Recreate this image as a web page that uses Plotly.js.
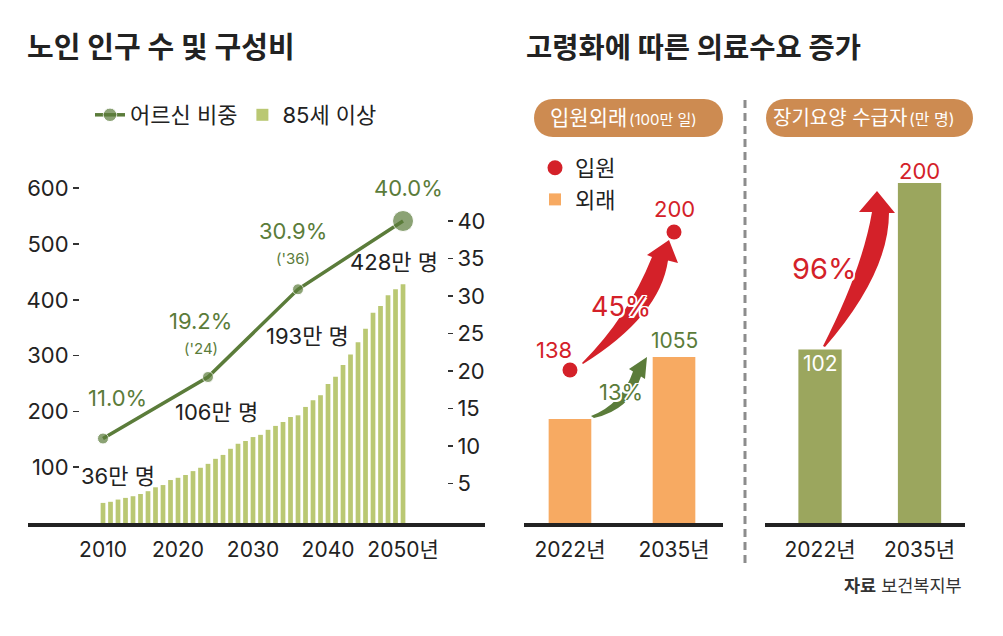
<!DOCTYPE html>
<html><head><meta charset="utf-8">
<script src="https://cdn.plot.ly/plotly-3.0.1.min.js"></script>
<style>html,body{margin:0;padding:0;background:#fff}#chart{width:1003px;height:636px}</style>
</head><body><div id="chart"></div>
<script>
// ---------- data ----------
const years85 = [2010,2011,2012,2013,2014,2015,2016,2017,2018,2019,2020,2021,2022,2023,2024,2025,2026,2027,2028,2029,2030,2031,2032,2033,2034,2035,2036,2037,2038,2039,2040,2041,2042,2043,2044,2045,2046,2047,2048,2049,2050];
const over85 = [36,38,42,45,48,52,57,64,68,77,81,86,93,99,106,115,122,133,142,147,154,158,167,174,181,190,193,208,220,229,249,262,283,302,324,348,377,389,408,419,428];
const shareYears = [2010, 2024, 2036, 2050];
const shareVals = [11.0, 19.2, 30.9, 40.0];
const shareNotes = ['', "('24)", "('36)", ''];
const countLabelYears = [2010, 2024, 2036, 2050];
const leftTicks = [100, 200, 300, 400, 500, 600];
const rightTicks = [5, 10, 15, 20, 25, 30, 35, 40];
const xTickYears = [2010, 2020, 2030, 2040, 2050];
const xTickText = ['2010', '2020', '2030', '2040', '2050년'];
const careYears = ['2022년', '2035년'];
const inpatient = [138, 200];     // 입원 (100만 일)
const outpatient = [934, 1055];   // 외래 (100만 일)
const ltcRecipients = [102, 200]; // 장기요양 수급자 (만 명)

// ---------- helpers ----------
const W = 1003, H = 636;
const fx = p => p / W;
const fy = p => 1 - p / H;
function pth(segs) {
  return segs.map(s => {
    let out = s[0];
    const n = s.slice(1);
    for (let i = 0; i < n.length; i += 2) {
      out += (i ? ' ' : '') + fx(n[i]).toFixed(5) + ',' + fy(n[i + 1]).toFixed(5);
    }
    return out;
  }).join(' ');
}
const FONT = 'Inter, Noto Sans CJK KR, sans-serif';
const GREEN = '#5B7C3A', LIGHTGREEN = '#BAC873', OLIVE = '#9BA65E', ORANGE = '#F7AA62', RED = '#D42129', TAN = '#CD8B51', INK = '#222';
const OUTLINE = '-1.5px -1.5px 0 #fff, 1.5px -1.5px 0 #fff, -1.5px 1.5px 0 #fff, 1.5px 1.5px 0 #fff, 0 1.5px 0 #fff, 0 -1.5px 0 #fff, 1.5px 0 0 #fff, -1.5px 0 0 #fff';

const B = 523, T = 170; // plot bottom / top in px
const yDom = [fy(B), fy(T)];

// ---------- traces ----------
const traces = [
  { type: 'scatter', mode: 'lines+markers', name: '어르신 비중', legend: 'legend',
    x: shareYears, y: shareVals, xaxis: 'x', yaxis: 'y2', cliponaxis: false,
    line: { color: GREEN, width: 3.5 }, marker: { color: GREEN, size: [11, 11, 11, 21] } },
  { type: 'bar', name: '85세 이상', legend: 'legend',
    x: years85, y: over85, xaxis: 'x', yaxis: 'y', width: 0.63,
    marker: { color: LIGHTGREEN } },
  { type: 'scatter', mode: 'markers', name: '입원', legend: 'legend2',
    x: careYears, y: inpatient, xaxis: 'x2', yaxis: 'y4', cliponaxis: false,
    marker: { color: RED, size: 15 } },
  { type: 'bar', name: '외래', legend: 'legend2',
    x: careYears, y: outpatient, xaxis: 'x2', yaxis: 'y3', width: 0.41,
    marker: { color: ORANGE } },
  { type: 'bar', name: '장기요양 수급자', showlegend: false,
    x: careYears, y: ltcRecipients, xaxis: 'x3', yaxis: 'y5', width: 0.435,
    marker: { color: OLIVE } }
];

// ---------- annotations ----------
const ann = [];
const add = o => ann.push(Object.assign({ showarrow: false }, o));

add({ xref: 'paper', yref: 'paper', x: fx(524), y: fy(48), xanchor: 'left', yanchor: 'middle',
  text: '<b>고령화에 따른 의료수요 증가</b>', font: { size: 28.5, color: INK } });

const shareOff = [[14, 41], [-8, 56], [-5, 58], [5, 33]];
const noteOff = [[0, 0], [-7, 29], [-5, 31], [0, 0]];
shareVals.forEach((v, i) => {
  add({ xref: 'x', yref: 'y2', x: shareYears[i], y: v, text: v.toFixed(1) + '%',
    xshift: shareOff[i][0], yshift: shareOff[i][1], font: { size: 22, color: GREEN } });
  if (shareNotes[i]) add({ xref: 'x', yref: 'y2', x: shareYears[i], y: v, text: shareNotes[i],
    xshift: noteOff[i][0], yshift: noteOff[i][1], font: { size: 15, color: GREEN } });
});
const countOff = [[14.5, 27], [8, 52], [9.5, 79], [-9, 22]];
countLabelYears.forEach((yr, i) => {
  const v = over85[years85.indexOf(yr)];
  add({ xref: 'x', yref: 'y', x: yr, y: v, text: v + '만 명',
    xshift: countOff[i][0], yshift: countOff[i][1], font: { size: 22, color: INK } });
});

// middle panel labels
add({ xref: 'x2', yref: 'y4', x: careYears[0], y: inpatient[0], text: String(inpatient[0]), xshift: -16, yshift: 20, font: { size: 22, color: RED } });
add({ xref: 'x2', yref: 'y4', x: careYears[1], y: inpatient[1], text: String(inpatient[1]), yshift: 23, font: { size: 22, color: RED } });
add({ xref: 'x2', yref: 'y3', x: careYears[1], y: outpatient[1], text: String(outpatient[1]), yshift: 16, font: { size: 21, color: GREEN } });
const gIn = Math.round((inpatient[1] / inpatient[0] - 1) * 100);
const gOut = Math.round((outpatient[1] / outpatient[0] - 1) * 100);
const gLtc = Math.round((ltcRecipients[1] / ltcRecipients[0] - 1) * 100);
add({ xref: 'paper', yref: 'paper', x: fx(621), y: fy(307), text: gIn + '%', font: { size: 27, color: RED, shadow: OUTLINE } });
add({ xref: 'paper', yref: 'paper', x: fx(621), y: fy(392), text: gOut + '%', font: { size: 22, color: GREEN, shadow: OUTLINE } });

// right panel labels
add({ xref: 'x3', yref: 'y5', x: careYears[1], y: ltcRecipients[1], text: String(ltcRecipients[1]), yshift: 12, font: { size: 22, color: RED } });
add({ xref: 'x3', yref: 'y5', x: careYears[0], y: ltcRecipients[0], text: String(ltcRecipients[0]), yshift: -14, font: { size: 21, color: '#fff' } });
add({ xref: 'paper', yref: 'paper', x: fx(858), y: fy(268), text: gLtc + '%', font: { size: 29, color: RED, shadow: OUTLINE } });

// pill texts
add({ xref: 'paper', yref: 'paper', x: fx(629), y: fy(118), xanchor: 'right', yanchor: 'middle', text: '입원외래', font: { size: 21, color: '#fff' } });
add({ xref: 'paper', yref: 'paper', x: fx(627), y: fy(119), xanchor: 'left', yanchor: 'middle', text: '(100만 일)', font: { size: 15, color: '#fff' } });
add({ xref: 'paper', yref: 'paper', x: fx(909), y: fy(118), xanchor: 'right', yanchor: 'middle', text: '장기요양 수급자', font: { size: 20, color: '#fff' } });
add({ xref: 'paper', yref: 'paper', x: fx(907), y: fy(119), xanchor: 'left', yanchor: 'middle', text: '(만 명)', font: { size: 16, color: '#fff' } });

// source
add({ xref: 'paper', yref: 'paper', x: fx(964), y: fy(598), xanchor: 'right', text: '<b>자료</b> 보건복지부', font: { size: 17.5, color: '#333' } });

// ---------- shapes ----------
const shapes = [
  { type: 'path', xref: 'paper', yref: 'paper', fillcolor: TAN, line: { width: 0 }, layer: 'below',
    path: pth([['M', 553, 99], ['L', 704, 99], ['C', 729.3, 99, 729.3, 137, 704, 137], ['L', 553, 137], ['C', 527.7, 137, 527.7, 99, 553, 99], ['Z']]) },
  { type: 'path', xref: 'paper', yref: 'paper', fillcolor: TAN, line: { width: 0 }, layer: 'below',
    path: pth([['M', 785, 99], ['L', 954, 99], ['C', 979.3, 99, 979.3, 137, 954, 137], ['L', 785, 137], ['C', 759.7, 137, 759.7, 99, 785, 99], ['Z']]) },
  { type: 'line', xref: 'paper', yref: 'paper', x0: fx(745), x1: fx(745), y0: fy(100), y1: fy(565),
    line: { color: '#8c8c8c', width: 3, dash: '8px,5px' } },
  // red arrow (입원)
  { type: 'path', xref: 'paper', yref: 'paper', fillcolor: RED, line: { width: 0 },
    path: pth([['M', 582, 363], ['Q', 628, 317, 652, 257], ['L', 647, 255], ['L', 669, 240], ['L', 678, 263], ['L', 668, 260.5], ['Q', 660, 316, 583, 364], ['Z']]) },
  // green arrow (외래)
  { type: 'path', xref: 'paper', yref: 'paper', fillcolor: GREEN, line: { width: 0 },
    path: pth([['M', 591, 416], ['Q', 622, 404, 633, 371.5], ['L', 629, 369], ['L', 647, 357], ['L', 645, 379], ['L', 641, 376.5], ['Q', 630, 410, 594, 418], ['Z']]) },
  // red arrow (장기요양)
  { type: 'path', xref: 'paper', yref: 'paper', fillcolor: RED, line: { width: 0 },
    path: pth([['M', 823, 346], ['Q', 862, 270, 872, 212], ['L', 859, 212], ['L', 877, 191], ['L', 895, 213], ['L', 889, 213], ['Q', 889, 273, 825, 347], ['Z']]) }
];

const xTickFont = { size: 21, color: INK };
const yTickFont = { size: 22, color: INK };
const layout = {
  width: W, height: H, margin: { l: 0, r: 0, t: 0, b: 0 },
  paper_bgcolor: '#fff', plot_bgcolor: 'rgba(0,0,0,0)',
  font: { family: FONT, color: INK },
  title: { text: '<b>노인 인구 수 및 구성비</b>', x: fx(27), xanchor: 'left', y: fy(48), yanchor: 'middle', font: { size: 29, color: INK } },
  showlegend: true,
  legend: { orientation: 'h', x: fx(90), xanchor: 'left', y: fy(115), yanchor: 'middle', font: { size: 22, color: INK }, bgcolor: 'rgba(0,0,0,0)' },
  legend2: { orientation: 'v', x: fx(535), xanchor: 'left', y: fy(147), yanchor: 'top', font: { size: 22, color: INK }, bgcolor: 'rgba(0,0,0,0)' },
  xaxis: { domain: [fx(28), fx(485)], anchor: 'y', range: [2000, 2060.93], showline: true, linewidth: 4, linecolor: INK,
    ticks: '', tickvals: xTickYears, ticktext: xTickText, tickfont: xTickFont, ticklabelstandoff: 5, showgrid: false, zeroline: false },
  yaxis: { domain: yDom, anchor: 'free', position: fx(79), side: 'left', range: [0, (B - T) / 0.558],
    ticks: 'outside', ticklen: 6, tickwidth: 1.5, tickcolor: '#333', tickvals: leftTicks, tickfont: yTickFont,
    showgrid: false, zeroline: false, showline: false },
  yaxis2: { overlaying: 'y', anchor: 'free', position: fx(447), side: 'right', range: [-0.267, (B - T) / 7.5 - 0.267],
    ticks: 'outside', ticklen: 5, tickwidth: 1.5, tickcolor: '#333', tickvals: rightTicks, tickfont: yTickFont,
    showgrid: false, zeroline: false, showline: false },
  xaxis2: { domain: [fx(524), fx(723)], anchor: 'y3', type: 'category', range: [-0.442, 1.471],
    showline: true, linewidth: 4, linecolor: INK, ticks: '', tickfont: xTickFont, ticklabelstandoff: 5, showgrid: false, zeroline: false },
  yaxis3: { domain: yDom, anchor: 'x2', range: [731, 731 + (B - T) / 0.5124], visible: false },
  yaxis4: { overlaying: 'y3', anchor: 'x2', range: [69.3, 69.3 + (B - T) / 2.226], visible: false },
  xaxis3: { domain: [fx(765), fx(965)], anchor: 'y5', type: 'category', range: [-0.553, 1.457],
    showline: true, linewidth: 4, linecolor: INK, ticks: '', tickfont: xTickFont, ticklabelstandoff: 5, showgrid: false, zeroline: false },
  yaxis5: { domain: yDom, anchor: 'x3', range: [0, (B - T) / 1.7], visible: false },
  annotations: ann,
  shapes: shapes
};

Plotly.newPlot('chart', traces, layout, { displayModeBar: false, staticPlot: true });
</script>
</body></html>
